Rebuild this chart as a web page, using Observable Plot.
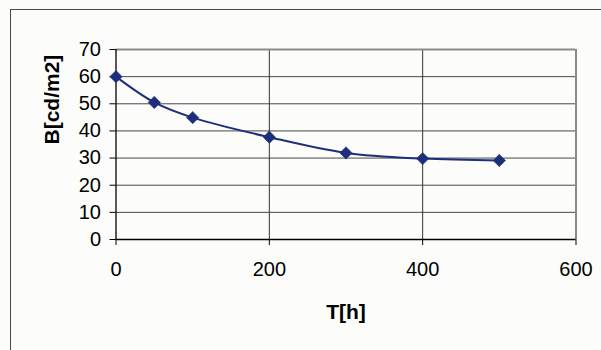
<!DOCTYPE html>
<html>
<head>
<meta charset="utf-8">
<script src="https://cdn.jsdelivr.net/npm/d3@7"></script>
<script src="https://cdn.jsdelivr.net/npm/@observablehq/plot@0.6"></script>
<style>
  html, body { margin: 0; padding: 0; background: #fcfcfa; }
  #wrap { position: relative; width: 601px; height: 350px; overflow: hidden; }
  #border { position: absolute; left: 10px; top: 9px; right: -2px; bottom: -2px;
            border-left: 1.5px solid #4a4a4a; border-top: 1.5px solid #4a4a4a; pointer-events: none; }
  svg { font-family: "Liberation Sans", Arial, sans-serif; }
</style>
</head>
<body>
<div id="wrap"><div id="border"></div></div>
<script>
const hours = [0, 50, 100, 200, 300, 400, 500];
const brightness = [60, 50.5, 44.9, 37.7, 31.9, 29.8, 29.1];
const xTicks = [0, 200, 400, 600];
const yTicks = [0, 10, 20, 30, 40, 50, 60, 70];
const xTitle = "T[h]";
const yTitle = "B[cd/m2]";

const data = hours.map((h, i) => ({h, b: brightness[i]}));
const navy = "#1d2f7b";

const chart = Plot.plot({
  width: 601,
  height: 350,
  marginLeft: 115.5,
  marginRight: 25.5,
  marginTop: 49,
  marginBottom: 111,
  style: {background: "transparent", fontSize: "20px", fontFamily: "Liberation Sans, Arial, sans-serif", color: "#000"},
  x: {domain: [0, 600]},
  y: {domain: [0, 70]},
  marks: [
    Plot.ruleY(yTicks.filter(v => v > 0 && v < 70), {stroke: "#4a4a4a", strokeWidth: 1}),
    Plot.ruleX(xTicks.filter(v => v > 0 && v < 600), {stroke: "#333", strokeWidth: 1}),
    Plot.ruleY([70], {stroke: "#8a8a8a", strokeWidth: 2}),
    Plot.ruleX([600], {stroke: "#8a8a8a", strokeWidth: 2}),
    Plot.axisX({ticks: xTicks, tickSize: 6, tickPadding: 16, label: null, fontSize: 20, stroke: "#000"}),
    Plot.axisY({ticks: yTicks, tickSize: 6, tickPadding: 9, label: null, fontSize: 20, stroke: "#000"}),
    Plot.ruleY([0], {stroke: "#000", strokeWidth: 1.3}),
    Plot.ruleX([0], {stroke: "#000", strokeWidth: 1.3}),
    Plot.line(data, {x: "h", y: "b", curve: "catmull-rom", stroke: navy, strokeWidth: 2}),
    Plot.dot(data, {x: "h", y: "b", symbol: "diamond2", r: 5.6, fill: navy, stroke: navy, strokeWidth: 0.5}),
    Plot.text([yTitle], {text: d => d, frameAnchor: "left", dx: -64, rotate: -90, fontSize: 21, fontWeight: "bold", fill: "#000", lineAnchor: "middle"}),
    Plot.text([xTitle], {text: d => d, frameAnchor: "bottom", dy: 73, fontSize: 21, fontWeight: "bold", fill: "#000", lineAnchor: "middle"})
  ]
});
document.getElementById("wrap").prepend(chart);
</script>
</body>
</html>
